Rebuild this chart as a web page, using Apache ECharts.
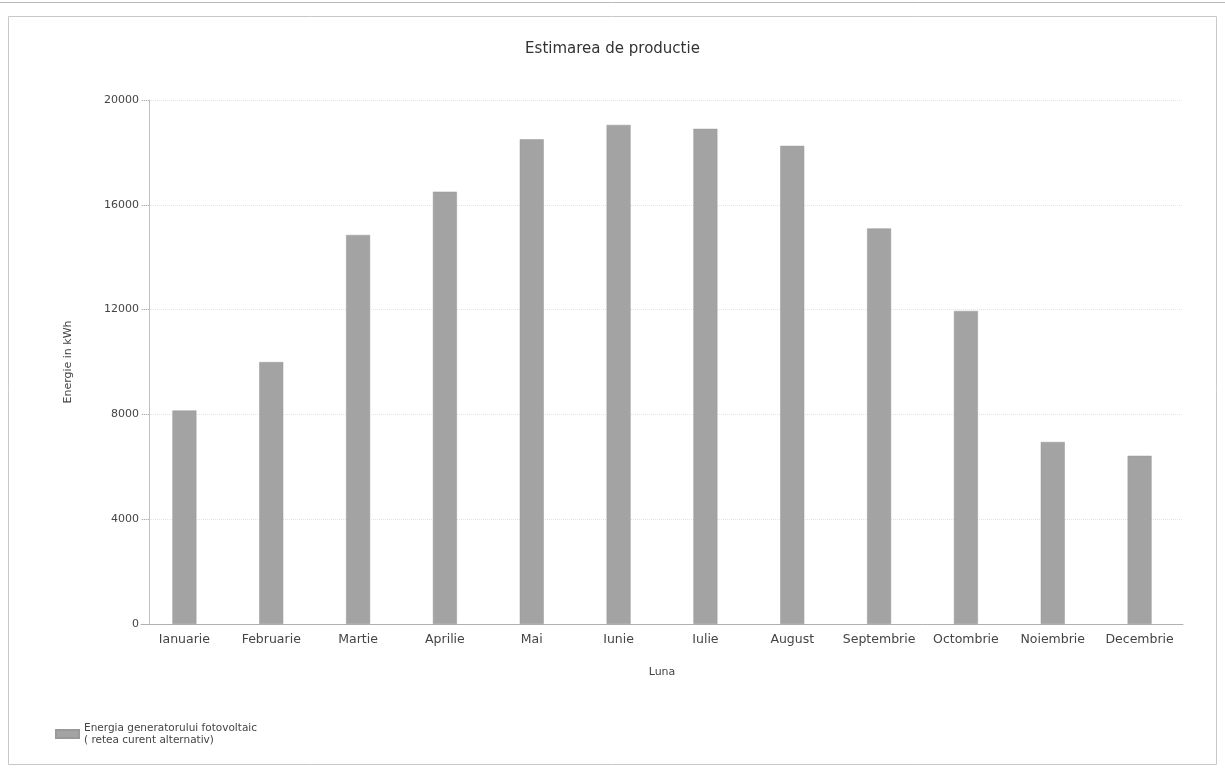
<!DOCTYPE html>
<html>
<head>
<meta charset="utf-8">
<script src="https://cdn.jsdelivr.net/npm/echarts@6/dist/echarts.min.js"></script>
<style>
  html, body { margin: 0; padding: 0; background: #ffffff; }
  #chart { width: 1225px; height: 770px; }
</style>
</head>
<body>
<div id="chart"></div>
<script>
// Monthly production estimate (kWh)
const months = ['Ianuarie', 'Februarie', 'Martie', 'Aprilie', 'Mai', 'Iunie',
                'Iulie', 'August', 'Septembrie', 'Octombrie', 'Noiembrie', 'Decembrie'];
const energy = [8150, 10000, 14850, 16500, 18500, 19050, 18900, 18250, 15100, 11950, 6950, 6420];
const seriesName = 'Energia generatorului fotovoltaic\n( retea curent alternativ)';
const yTicks = [0, 4000, 8000, 12000, 16000, 20000];

const font = 'DejaVu Sans';
const chart = echarts.init(document.getElementById('chart'), null, { renderer: 'canvas' });

chart.setOption({
  backgroundColor: '#ffffff',
  animation: false,
  textStyle: { fontFamily: font },
  title: {
    text: 'Estimarea de productie',
    left: 'center',
    top: 37,
    textStyle: { fontFamily: font, fontSize: 15, fontWeight: 'normal', color: '#333' }
  },
  graphic: [
    { type: 'rect', shape: { x: 8.5, y: 16.5, width: 1208, height: 748 },
      style: { fill: 'none', stroke: '#c8c8c8', lineWidth: 1 }, silent: true },
    { type: 'line', shape: { x1: 0, y1: 2.5, x2: 1225, y2: 2.5 },
      style: { stroke: '#b8b8b8', lineWidth: 1 }, silent: true }
  ],
  legend: {
    left: 50,
    top: 717,
    orient: 'vertical',
    icon: 'rect',
    itemWidth: 23,
    itemHeight: 8,
    itemGap: 6,
    textStyle: { fontFamily: font, fontSize: 10.5, color: '#444', lineHeight: 12 },
    data: [seriesName]
  },
  grid: { left: 141, right: 42, top: 100, bottom: 146, containLabel: false },
  xAxis: {
    type: 'category',
    data: months,
    name: 'Luna',
    nameLocation: 'middle',
    nameGap: 43,
    nameTextStyle: { fontFamily: font, fontSize: 11, color: '#444' },
    axisLine: { lineStyle: { color: '#b0b0b0', width: 1 } },
    axisTick: { alignWithLabel: true, length: 5, lineStyle: { color: '#b0b0b0' } },
    axisLabel: { fontFamily: font, fontSize: 12.5, color: '#444', margin: 9, interval: 0 }
  },
  yAxis: {
    type: 'value',
    min: 0,
    max: 20000,
    interval: 4000,
    offset: -8,
    name: 'Energie in kWh',
    nameLocation: 'middle',
    nameGap: 75,
    nameRotate: 90,
    nameTextStyle: { fontFamily: font, fontSize: 11, color: '#444' },
    axisLine: { show: true, lineStyle: { color: '#c0c0c0', width: 1 } },
    axisTick: { show: true, length: 7, lineStyle: { color: '#b0b0b0', type: 'dotted' } },
    axisLabel: {
      fontFamily: font, fontSize: 11, color: '#444', margin: 10,
      formatter: v => (yTicks.includes(v) ? String(v) : '')
    },
    splitLine: { show: true, lineStyle: { color: '#e4e4e4', width: 1, type: 'dotted' } }
  },
  series: [{
    name: seriesName,
    type: 'bar',
    data: energy,
    barWidth: 24,
    itemStyle: { color: '#a3a3a3', borderColor: '#999999', borderWidth: 0.5 }
  }]
});
</script>
</body>
</html>
